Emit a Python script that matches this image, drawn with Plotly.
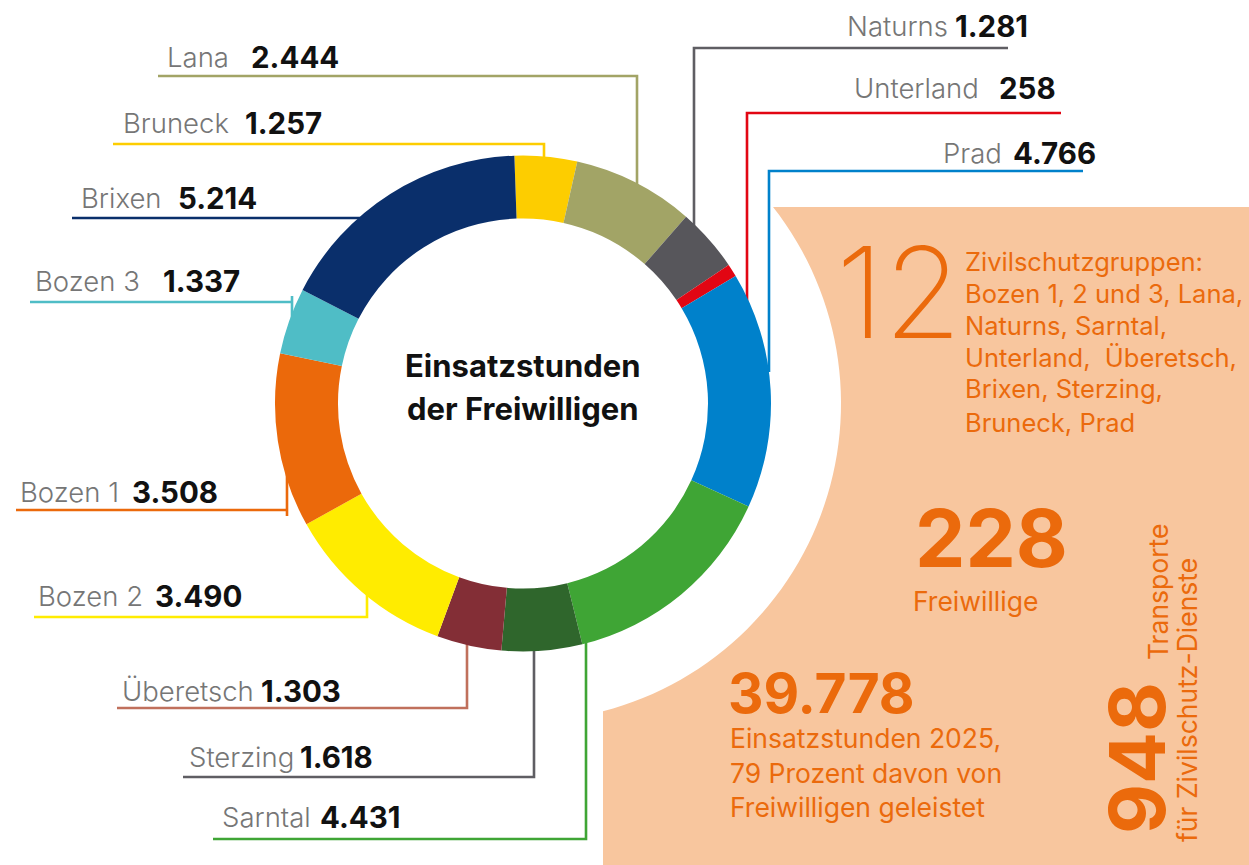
import math
import plotly.graph_objects as go

# ---------------- data ----------------
groups = ["Bruneck", "Lana", "Naturns", "Unterland", "Prad", "Sarntal",
          "Sterzing", "Überetsch", "Bozen 2", "Bozen 1", "Bozen 3", "Brixen"]
hours = [1257, 2444, 1281, 258, 4766, 4431, 1618, 1303, 3490, 3508, 1337, 5214]
seg_colors = ["#FDCD00", "#A2A466", "#57565B", "#E20613", "#0081CB", "#3FA535",
              "#2F662C", "#832E36", "#FFEC00", "#EB690B", "#4FBDC6", "#0A2F6B"]
line_colors = {"Bruneck": "#FDCD00", "Lana": "#A2A466", "Naturns": "#5F5E63",
               "Unterland": "#E20613", "Prad": "#0081CB", "Sarntal": "#3FA535",
               "Sterzing": "#5F5E63", "Überetsch": "#C0705C", "Bozen 2": "#FFEC00",
               "Bozen 1": "#EB690B", "Bozen 3": "#4FBDC6", "Brixen": "#0A2F6B"}
center_title = ["Einsatzstunden", "der Freiwilligen"]
groups_count = "12"
groups_text = ["Zivilschutzgruppen:", "Bozen 1, 2 und 3, Lana,", "Naturns, Sarntal,",
               "Unterland,  Überetsch,", "Brixen, Sterzing,", "Bruneck, Prad"]
volunteers = "228"
volunteers_label = "Freiwillige"
total_hours = "39.778"
total_text = ["Einsatzstunden 2025,", "79 Prozent davon von", "Freiwilligen geleistet"]
transports = "948"
transports_text = ["Transporte", "für Zivilschutz-Dienste"]

# ---------------- layout geometry (pixels) ----------------
W, H = 1249, 865
CX, CY, R = 523.0, 403.5, 248.0
HOLE = 0.746
ORANGE = "#EB6A0C"
PEACH = "#F8C69E"
FONT = "Inter"
SMALL = 26.5


def px(x):
    return x / W


def py(y):
    return 1 - y / H


def ring_y(x, upper=True, inset=0):
    d = math.sqrt(max(R * R - (x - CX) ** 2, 0))
    return (CY - d + inset) if upper else (CY + d - inset)


def ring_x_left(y, inset=0):
    d = math.sqrt(max(R * R - (y - CY) ** 2, 0))
    return CX - d + inset


def fmt(v):
    return f"{v:,}".replace(",", ".")


# label placement: name x, value x, baseline y, leader polyline(s)
label_pos = {
    "Lana":      (165, 249, 67,  [[(158, 76), (637, 76), (637, ring_y(637, True, 8))]]),
    "Bruneck":   (121, 243, 133, [[(113, 144), (544, 144), (544, ring_y(544, True, 8))]]),
    "Brixen":    (79, 176, 208,  [[(72, 218), (ring_x_left(218, 8), 218)]]),
    "Bozen 3":   (33, 161, 291,  [[(30, 302), (292, 302)], [(292, 296), (292, ring_y(292, True, 8))]]),
    "Bozen 1":   (18, 130, 502,  [[(16, 510), (287, 510)], [(287, ring_y(287, False, 8)), (287, 516)]]),
    "Bozen 2":   (36, 153, 606,  [[(34, 617), (367, 617), (367, ring_y(367, False, 8))]]),
    "Überetsch": (120, 259, 701, [[(117, 708), (467, 708), (467, ring_y(467, False, 8))]]),
    "Sterzing":  (187, 298, 767, [[(183, 777), (534, 777), (534, ring_y(534, False, 8))]]),
    "Sarntal":   (220, 318, 827, [[(213, 839), (586, 839), (586, ring_y(586, False, 8))]]),
    "Naturns":   (845, 953, 36,  [[(1008, 48), (694, 48), (694, ring_y(694, True, 8))]]),
    "Unterland": (852, 997, 98,  [[(1061, 113), (747, 113), (747, ring_y(747, True, 8))]]),
    "Prad":      (941, 1011, 163, [[(1083, 171), (769, 171), (769, ring_y(769, True, 0))]]),
}

fig = go.Figure()
fig.add_trace(go.Pie(
    labels=groups, values=hours, sort=False, direction="clockwise", rotation=-2,
    hole=HOLE, marker=dict(colors=seg_colors, line=dict(width=0)),
    textinfo="none", hoverinfo="label+value", showlegend=False,
    domain=dict(x=[px(CX - R), px(CX + R)], y=[py(CY + R), py(CY - R)]),
))

shapes = []
# peach background panel with circular cut-out
RC = 318.0
x_left = 603.0
y_top = 207.0
a_start = math.atan2(math.sqrt(RC ** 2 - (x_left - CX) ** 2), x_left - CX)
a_end = math.atan2(y_top - CY, math.sqrt(RC ** 2 - (y_top - CY) ** 2))
pts = [(x_left, H), (x_left, CY + math.sqrt(RC ** 2 - (x_left - CX) ** 2))]
n = 60
for i in range(1, n + 1):
    a = a_start + (a_end - a_start) * i / n
    pts.append((CX + RC * math.cos(a), CY + RC * math.sin(a)))
pts += [(W, y_top), (W, H)]
path = "M " + " L ".join(f"{px(x):.5f},{py(y):.5f}" for x, y in pts) + " Z"
shapes.append(dict(type="path", xref="paper", yref="paper", path=path,
                   fillcolor=PEACH, line=dict(width=0), layer="below"))

annotations = []
for name, v in zip(groups, hours):
    nx, vx, base, polys = label_pos[name]
    for poly in polys:
        p = "M " + " L ".join(f"{px(x):.5f},{py(y):.5f}" for x, y in poly)
        shapes.append(dict(type="path", xref="paper", yref="paper", path=p,
                           line=dict(color=line_colors[name], width=2.6), layer="below"))
    yc = base - 10
    annotations.append(dict(x=px(nx), y=py(yc), xref="paper", yref="paper", text=name,
                            xanchor="left", yanchor="middle", showarrow=False,
                            font=dict(family=FONT, size=27.5, color="#767676", weight=300)))
    annotations.append(dict(x=px(vx), y=py(yc), xref="paper", yref="paper", text=f"<b>{fmt(v)}</b>",
                            xanchor="left", yanchor="middle", showarrow=False,
                            font=dict(family=FONT, size=29.5, color="#111111")))

# center title
for t, yc in zip(center_title, [365, 408]):
    annotations.append(dict(x=px(CX), y=py(yc), xref="paper", yref="paper", text=f"<b>{t}</b>",
                            xanchor="center", yanchor="middle", showarrow=False,
                            font=dict(family=FONT, size=31, color="#111111")))

# right panel
annotations.append(dict(x=px(834), y=py(292), xref="paper", yref="paper", text=groups_count,
                        xanchor="left", yanchor="middle", showarrow=False,
                        font=dict(family=FONT, size=126, color=ORANGE, weight=200)))
for t, yc in zip(groups_text, [262, 293, 325, 357, 388, 423]):
    annotations.append(dict(x=px(963), y=py(yc), xref="paper", yref="paper", text=t,
                            xanchor="left", yanchor="middle", showarrow=False,
                            font=dict(family=FONT, size=25.5, color=ORANGE)))
annotations.append(dict(x=px(991), y=py(537), xref="paper", yref="paper", text=f"<b>{volunteers}</b>",
                        xanchor="center", yanchor="middle", showarrow=False,
                        font=dict(family=FONT, size=80, color=ORANGE)))
annotations.append(dict(x=px(911), y=py(601), xref="paper", yref="paper", text=volunteers_label,
                        xanchor="left", yanchor="middle", showarrow=False,
                        font=dict(family=FONT, size=SMALL, color=ORANGE)))
annotations.append(dict(x=px(726), y=py(693), xref="paper", yref="paper", text=f"<b>{total_hours}</b>",
                        xanchor="left", yanchor="middle", showarrow=False,
                        font=dict(family=FONT, size=55, color=ORANGE)))
for t, yc in zip(total_text, [738, 773, 807]):
    annotations.append(dict(x=px(728), y=py(yc), xref="paper", yref="paper", text=t,
                            xanchor="left", yanchor="middle", showarrow=False,
                            font=dict(family=FONT, size=SMALL, color=ORANGE)))
annotations.append(dict(x=px(1137), y=py(758), xref="paper", yref="paper", text=f"<b>{transports}</b>",
                        xanchor="center", yanchor="middle", showarrow=False, textangle=-90,
                        font=dict(family=FONT, size=77, color=ORANGE)))
annotations.append(dict(x=px(1158), y=py(592), xref="paper", yref="paper", text=transports_text[0],
                        xanchor="center", yanchor="middle", showarrow=False, textangle=-90,
                        font=dict(family=FONT, size=SMALL, color=ORANGE)))
annotations.append(dict(x=px(1187), y=py(700), xref="paper", yref="paper", text=transports_text[1],
                        xanchor="center", yanchor="middle", showarrow=False, textangle=-90,
                        font=dict(family=FONT, size=SMALL, color=ORANGE)))

fig.update_layout(
    width=W, height=H, margin=dict(l=0, r=0, t=0, b=0),
    paper_bgcolor="white", plot_bgcolor="white",
    shapes=shapes, annotations=annotations, showlegend=False,
)
fig.write_html("out.html", config={"displayModeBar": False},
               post_script="document.body.style.margin='0px';document.body.style.overflow='hidden';")
